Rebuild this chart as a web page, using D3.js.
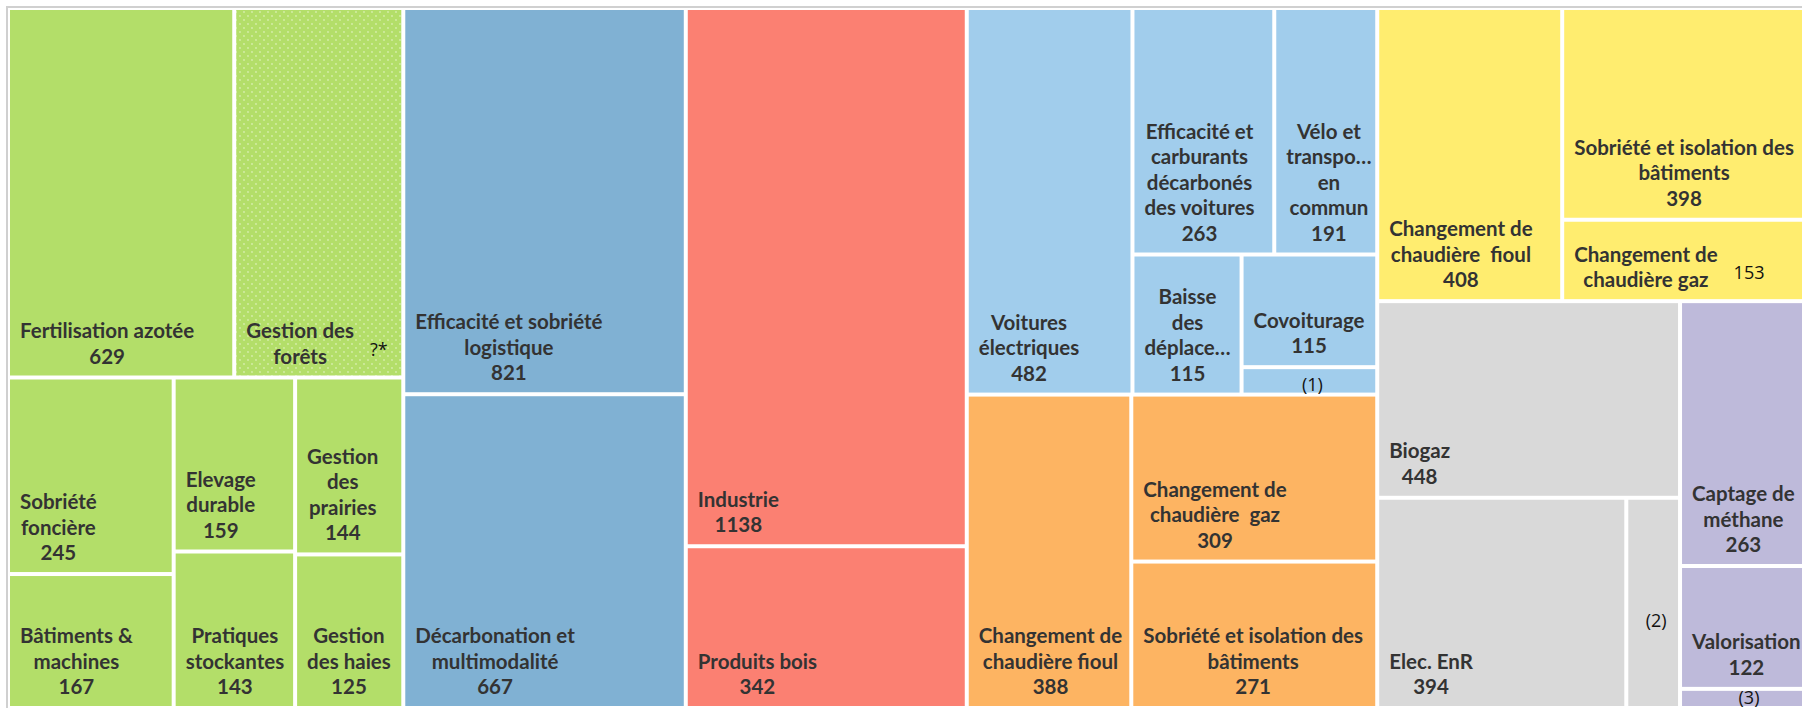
<!DOCTYPE html>
<html>
<head>
<meta charset="utf-8">
<script src="https://cdn.jsdelivr.net/npm/d3@7"></script>
<style>
  html, body { margin: 0; padding: 0; background: #fff; }
  svg { display: block; }
</style>
</head>
<body>
<div id="chart"></div>
<script>
// gisements par levier (ktCO2e), lus sur le treemap
// "|" = retour à la ligne du libellé ; tag = note affichée à part
const agriculture = [
  { label: "Fertilisation azotée", value: 629 },
  { label: "Gestion des|forêts", value: 470, tag: "?*", uncertain: true }, // valeur inconnue, surface estimée
  { label: "Sobriété|foncière", value: 245 },
  { label: "Bâtiments &|machines", value: 167 },
  { label: "Elevage|durable", value: 159 },
  { label: "Pratiques|stockantes", value: 143 },
  { label: "Gestion|des|prairies", value: 144 },
  { label: "Gestion|des haies", value: 125 }
];
const logistique = [
  { label: "Efficacité et sobriété|logistique", value: 821 },
  { label: "Décarbonation et|multimodalité", value: 667 }
];
const industrie = [
  { label: "Industrie", value: 1138 },
  { label: "Produits bois", value: 342 }
];
const voyageurs = [
  { label: "Voitures|électriques", value: 482 },
  { label: "Efficacité et|carburants|décarbonés|des voitures", value: 263 },
  { label: "Vélo et|transpo…|en|commun", value: 191 },
  { label: "Baisse|des|déplace…", value: 115 },
  { label: "Covoiturage", value: 115 },
  { label: "", value: 28, tag: "(1)" }
];
const residentiel = [
  { label: "Changement de|chaudière fioul", value: 388 },
  { label: "Changement de|chaudière  gaz", value: 309 },
  { label: "Sobriété et isolation des|bâtiments", value: 271 }
];
const tertiaire = [
  { label: "Changement de|chaudière  fioul", value: 408 },
  { label: "Sobriété et isolation des|bâtiments", value: 398 },
  { label: "Changement de|chaudière gaz", value: 153, tag: "153" }
];
const energie = [
  { label: "Biogaz", value: 448 },
  { label: "Elec. EnR", value: 394 },
  { label: "", value: 85, tag: "(2)" }
];
const dechets = [
  { label: "Captage de|méthane", value: 263 },
  { label: "Valorisation", value: 122 },
  { label: "", value: 19, tag: "(3)" }
];

const sectors = ["agriculture", "logistique", "industrie", "voyageurs", "residentiel", "tertiaire", "energie", "dechets"];
const color = d3.scaleOrdinal()
  .domain(sectors)
  .range(["#b3de69", "#80b1d3", "#fb8072", "#a1cdec", "#fdb462", "#ffed6f", "#d9d9d9", "#bebada"]);

const tag = (arr, name) => arr.map(d => ({ ...d, sector: name }));
const A = tag(agriculture, "agriculture"), B = tag(logistique, "logistique"),
      C = tag(industrie, "industrie"), D = tag(voyageurs, "voyageurs"),
      E = tag(residentiel, "residentiel"), F = tag(tertiaire, "tertiaire"),
      G = tag(energie, "energie"), P = tag(dechets, "dechets");
const g = (...kids) => ({ children: kids });

// nesting follows the picture; slice/dice alternates with depth
const tree = g(
  g(g(A[0], A[1]), g(g(A[2], A[3]), g(A[4], A[5]), g(A[6], A[7]))),
  g(B[0], B[1]),
  g(C[0], C[1]),
  g(g(D[0], g(g(D[1], D[2]), g(D[3], g(D[4], D[5])))), g(E[0], g(E[1], E[2]))),
  g(g(F[0], g(F[1], F[2])), g(g(G[0], g(G[1], G[2])), g(P[0], P[1], P[2])))
);

const width = 1802, height = 708;
const svg = d3.select("#chart").append("svg")
  .attr("width", width)
  .attr("height", height);

const pat = svg.append("defs").append("pattern")
  .attr("id", "dots")
  .attr("width", 8).attr("height", 8)
  .attr("patternUnits", "userSpaceOnUse");
pat.append("rect").attr("width", 8).attr("height", 8).attr("fill", color("agriculture"));
pat.append("circle").attr("cx", 2).attr("cy", 2).attr("r", 0.9).attr("fill", "#d6eeab");
pat.append("circle").attr("cx", 6).attr("cy", 6).attr("r", 0.9).attr("fill", "#d6eeab");

// light grey frame, cut at right and bottom
svg.append("path")
  .attr("d", `M7,${height}V7H${width}`)
  .attr("fill", "none")
  .attr("stroke", "#d0d0d0")
  .attr("stroke-width", 2);

const root = d3.hierarchy(tree).sum(d => d.value || 0);
d3.treemap()
  .tile(d3.treemapSliceDice)
  .size([1800, 696])
  .paddingInner(4)(root);

const plot = svg.append("g").attr("transform", "translate(10,10)");

const cells = plot.selectAll("g.cell")
  .data(root.leaves())
  .enter().append("g")
  .attr("class", "cell");

cells.append("rect")
  .attr("x", d => d.x0)
  .attr("y", d => d.y0)
  .attr("width", d => d.x1 - d.x0)
  .attr("height", d => d.y1 - d.y0)
  .attr("fill", d => d.data.uncertain ? "url(#dots)" : color(d.data.sector));

const lineH = 25.5, padX = 10, padB = 12;

cells.each(function (d) {
  const cell = d3.select(this);
  const lines = d.data.label ? d.data.label.split("|") : [];
  if (!d.data.tag && lines.length) lines.push(String(d.value));

  if (!lines.length) {
    // footnote marker alone in a thin cell
    cell.append("text")
      .attr("x", (d.x0 + d.x1) / 2 + 3)
      .attr("y", Math.min(d.y1 - 2, (d.y0 + d.y1) / 2 + 24))
      .attr("text-anchor", "middle")
      .style("font-family", "'Open Sans', sans-serif")
      .style("font-size", "18px")
      .style("fill", "#111")
      .text(d.data.tag);
    return;
  }

  const text = cell.append("text")
    .attr("text-anchor", "middle")
    .style("font-family", "Lato, sans-serif")
    .style("font-weight", "bold")
    .style("font-size", "20.5px")
    .style("fill", "#333")
    .style("white-space", "pre");

  const spans = lines.map((s, i) => text.append("tspan")
    .attr("y", d.y1 - padB - (lines.length - 1 - i) * lineH)
    .text(s));
  const maxW = d3.max(spans, s => s.node().getComputedTextLength());
  const cx = d.x0 + padX + maxW / 2;
  spans.forEach(s => s.attr("x", cx));

  if (d.data.tag) {
    cell.append("text")
      .attr("x", d.x0 + padX + maxW + 16)
      .attr("y", d.y1 - padB - 8)
      .style("font-family", "'Open Sans', sans-serif")
      .style("font-size", "18px")
      .style("fill", "#111")
      .text(d.data.tag);
  }
});
</script>
</body>
</html>
